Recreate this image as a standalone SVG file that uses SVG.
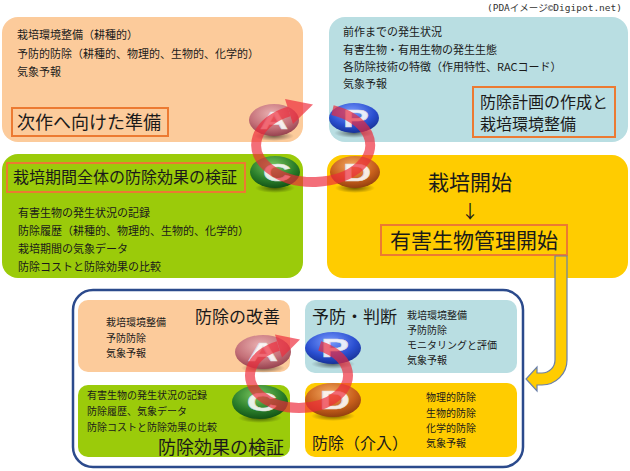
<svg xmlns="http://www.w3.org/2000/svg" width="630" height="471" viewBox="0 0 630 471">
<defs>
<style>
text{font-family:"Noto Sans CJK JP","Liberation Sans",sans-serif;fill:#1a1a1a}
.b{font-size:11px}
.s{font-size:10px}
.t16{font-size:16px}
.t17{font-size:17px}
.t18{font-size:18px}
.t21{font-size:21px}
.hl{fill:none;stroke:#ec7a32;stroke-width:2}
.peach{fill:#fccb9b}
.teal{fill:#b9dee2}
.green{fill:#9bcb0a}
.yel{fill:#ffcc00}
.ltr{font-family:"Liberation Sans",sans-serif;font-weight:bold;font-size:30px;fill:#ffffff;fill-opacity:0.9;text-anchor:middle;stroke:#dddddd;stroke-width:0.6}
.ring{fill:none;stroke:#ee2a3a;stroke-opacity:0.68;stroke-width:10}
.rhead{fill:#ee2a3a;fill-opacity:0.68}
.credit{font-family:"DejaVu Sans Mono","Noto Sans CJK JP",monospace;font-size:9.5px;fill:#333}
</style>
<radialGradient id="gA" cx="0.45" cy="0.3" r="0.75"><stop offset="0" stop-color="#eab0b0"/><stop offset="0.6" stop-color="#c47078"/><stop offset="1" stop-color="#8e3a48"/></radialGradient>
<radialGradient id="gP" cx="0.45" cy="0.3" r="0.75"><stop offset="0" stop-color="#7a9cff"/><stop offset="0.6" stop-color="#2a4fd0"/><stop offset="1" stop-color="#142c8c"/></radialGradient>
<radialGradient id="gC" cx="0.45" cy="0.3" r="0.75"><stop offset="0" stop-color="#7cc860"/><stop offset="0.6" stop-color="#2a7e2a"/><stop offset="1" stop-color="#0e4a12"/></radialGradient>
<radialGradient id="gD" cx="0.45" cy="0.3" r="0.75"><stop offset="0" stop-color="#f4a860"/><stop offset="0.6" stop-color="#c8601c"/><stop offset="1" stop-color="#8a3a0c"/></radialGradient>
<radialGradient id="sh" cx="0.5" cy="0.5" r="0.5"><stop offset="0" stop-color="#000" stop-opacity="0.55"/><stop offset="1" stop-color="#000" stop-opacity="0"/></radialGradient>
</defs>

<text class="credit" x="622" y="11" text-anchor="end">(PDAイメージ©Digipot.net)</text>

<g id="act-top">
<rect class="peach" x="2" y="17" width="301" height="125" rx="16"/>
<text class="b" x="17" y="39">栽培環境整備（耕種的）</text>
<text class="b" x="17" y="58">予防的防除（耕種的、物理的、生物的、化学的）</text>
<text class="b" x="17" y="76">気象予報</text>
<rect class="hl" x="12" y="108" width="156" height="28"/>
<text class="t18" x="17" y="129">次作へ向けた準備</text>
</g>

<g id="plan-top">
<rect class="teal" x="329" y="17" width="299" height="125" rx="16"/>
<text class="b" x="343" y="36">前作までの発生状況</text>
<text class="b" x="343" y="54">有害生物・有用生物の発生生態</text>
<text class="b" x="343" y="71">各防除技術の特徴（作用特性、RACコード）</text>
<text class="b" x="343" y="88">気象予報</text>
<rect class="hl" x="473" y="87" width="142" height="50"/>
<text class="t16" x="480" y="108">防除計画の作成と</text>
<text class="t16" x="480" y="130">栽培環境整備</text>
</g>

<g id="check-top">
<rect class="green" x="2" y="154" width="301" height="124" rx="16"/>
<rect class="hl" x="7" y="163" width="238" height="29"/>
<text class="t16" x="13" y="183">栽培期間全体の防除効果の検証</text>
<text class="b" x="18" y="217">有害生物の発生状況の記録</text>
<text class="b" x="18" y="235">防除履歴（耕種的、物理的、生物的、化学的）</text>
<text class="b" x="18" y="253">栽培期間の気象データ</text>
<text class="b" x="18" y="271">防除コストと防除効果の比較</text>
</g>

<g id="do-top">
<rect class="yel" x="327" y="155" width="301" height="123" rx="16"/>
<text class="t21" x="470" y="190" text-anchor="middle">栽培開始</text>
<text class="t18" x="470" y="218" text-anchor="middle">↓</text>
<rect class="hl" x="381" y="225" width="186" height="30"/>
<text class="t21" x="474" y="248" text-anchor="middle">有害生物管理開始</text>
</g>

<g id="bottom-cycle">
<rect x="73" y="290" width="450" height="177" rx="20" fill="#fff" stroke="#2b4a8c" stroke-width="2.5"/>
</g>

<g id="act-bottom">
<rect class="peach" x="78" y="300" width="212" height="72" rx="10"/>
<text class="t17" x="195" y="323">防除の改善</text>
<text class="s" x="106" y="326">栽培環境整備</text>
<text class="s" x="106" y="342">予防防除</text>
<text class="s" x="106" y="357">気象予報</text>
</g>

<g id="plan-bottom">
<rect class="teal" x="305" y="300" width="212" height="73" rx="10"/>
<text class="t17" x="312" y="323">予防・判断</text>
<text class="s" x="407" y="319">栽培環境整備</text>
<text class="s" x="407" y="334">予防防除</text>
<text class="s" x="407" y="349">モニタリングと評価</text>
<text class="s" x="407" y="364">気象予報</text>
</g>

<g id="check-bottom">
<rect class="green" x="78" y="385" width="212" height="72" rx="10"/>
<text class="s" x="87" y="399">有害生物の発生状況の記録</text>
<text class="s" x="87" y="415">防除履歴、気象データ</text>
<text class="s" x="87" y="431">防除コストと防除効果の比較</text>
<text class="t18" x="158" y="454">防除効果の検証</text>
</g>

<g id="do-bottom">
<rect class="yel" x="305" y="383" width="212" height="74" rx="10"/>
<text class="s" x="426" y="401">物理的防除</text>
<text class="s" x="426" y="417">生物的防除</text>
<text class="s" x="426" y="432">化学的防除</text>
<text class="s" x="426" y="447">気象予報</text>
<text class="t16" x="312" y="449">防除（介入）</text>
</g>

<g id="badges-top">
<ellipse cx="274" cy="136" rx="20" ry="5" fill="url(#sh)"/>
<ellipse cx="274" cy="120" rx="25" ry="16" fill="url(#gA)"/>
<text class="ltr" transform="translate(274,129) scale(1.3,0.8)">A</text>
<ellipse cx="354" cy="133" rx="20" ry="5" fill="url(#sh)"/>
<ellipse cx="354" cy="118" rx="25" ry="15" fill="url(#gP)"/>
<text class="ltr" transform="translate(356,127) scale(1.3,0.8)">P</text>
<ellipse cx="275" cy="188" rx="20" ry="5" fill="url(#sh)"/>
<ellipse cx="275" cy="172" rx="25" ry="16" fill="url(#gC)"/>
<text class="ltr" transform="translate(277,181) scale(1.3,0.8)">C</text>
<ellipse cx="355" cy="188" rx="20" ry="5" fill="url(#sh)"/>
<ellipse cx="355" cy="172" rx="25" ry="16" fill="url(#gD)"/>
<text class="ltr" transform="translate(357,181) scale(1.3,0.8)">D</text>
</g>

<g id="badges-bottom">
<ellipse cx="263" cy="368" rx="22" ry="5" fill="url(#sh)"/>
<ellipse cx="263" cy="352" rx="28" ry="17" fill="url(#gA)"/>
<text class="ltr" transform="translate(263,361) scale(1.4,0.85)">A</text>
<ellipse cx="333" cy="364" rx="22" ry="5" fill="url(#sh)"/>
<ellipse cx="333" cy="348" rx="28" ry="16" fill="url(#gP)"/>
<text class="ltr" transform="translate(335,357) scale(1.4,0.85)">P</text>
<ellipse cx="260" cy="418" rx="22" ry="5" fill="url(#sh)"/>
<ellipse cx="260" cy="402" rx="28" ry="17" fill="url(#gC)"/>
<text class="ltr" transform="translate(262,411) scale(1.4,0.85)">C</text>
<ellipse cx="333" cy="416" rx="22" ry="5" fill="url(#sh)"/>
<ellipse cx="333" cy="400" rx="28" ry="17" fill="url(#gD)"/>
<text class="ltr" transform="translate(335,409) scale(1.4,0.85)">D</text>
</g>

<g id="connectors">
<path d="M555,256 V360 A13,13 0 0 1 542,373 H537 V367 L526,379 L537,391 V385 H542 A25,25 0 0 0 567,360 V256 Z" fill="#ffcc00" stroke="#6a7fa8" stroke-width="1.2"/>
<path class="ring" d="M332.5,110.2 A57,37 0 1 1 289,111.5"/>
<polygon class="rhead" points="313,104.5 285,99 293,124"/>
<path class="ring" d="M319.7,346 A49,32.5 0 1 1 278.3,346"/>
<polygon class="rhead" points="300,339.5 275,334.5 282,357.5"/>
</g>
</svg>
